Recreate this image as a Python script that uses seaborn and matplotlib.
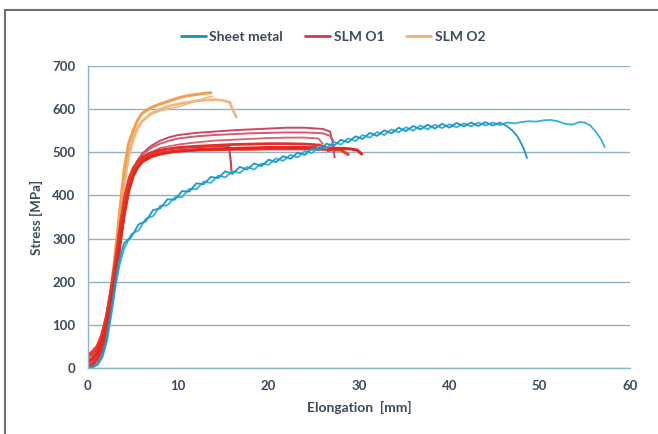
import matplotlib
matplotlib.use("Agg")
import matplotlib.pyplot as plt
from matplotlib.lines import Line2D
import seaborn as sns

# ---------------- data: elongation [mm] and stress [MPa] per specimen ----------------
# Sheet metal specimens
sheet_a_x = [0.3, 1.0, 1.5, 2.0, 2.5, 3.0, 3.4, 3.7,
             4.0, 4.8, 5.6, 6.4, 7.2, 8.0, 8.8, 9.6, 10.4, 11.2, 12.0, 12.8, 13.6, 14.4,
             15.2, 16.0, 16.8, 17.6, 18.4, 19.2, 20.0, 20.8, 21.6, 22.4, 23.2, 24.0, 24.8,
             25.6, 26.4, 27.2, 28.0, 28.8, 29.6, 30.4, 31.2, 32.0, 32.8, 33.6, 34.4, 35.2,
             36.0, 36.8, 37.6, 38.4, 39.2, 40.0, 40.8, 41.6, 42.4, 43.2, 44.0, 44.8, 45.6,
             46.4, 47.0, 47.6, 48.2, 48.6]
sheet_a_y = [0, 8, 25, 62, 125, 195, 245, 270,
             289, 304, 333, 340, 366, 370, 391, 390, 410, 409, 428, 426, 443, 440,
             456, 450, 466, 460, 474, 468, 483, 477, 491, 485, 499, 494, 509,
             505, 520, 515, 529, 523, 537, 531, 545, 538, 551, 544, 557, 549,
             561, 553, 564, 555, 566, 557, 568, 560, 569, 561, 570, 562, 569,
             560, 550, 535, 510, 487]

sheet_b_x = [0.4, 1.1, 1.6, 2.1, 2.6, 3.1, 3.5, 3.8,
             4.0, 4.8, 5.6, 6.4, 7.2, 8.0, 8.8, 9.6, 10.4, 11.2, 12.0, 12.8, 13.6, 14.4,
             15.2, 16.0, 16.8, 17.6, 18.4, 19.2, 20.0, 20.8, 21.6, 22.4, 23.2, 24.0, 24.8,
             25.6, 26.4, 27.2, 28.0, 28.8, 29.6, 30.4, 31.2, 32.0, 32.8, 33.6, 34.4, 35.2,
             36.0, 36.8, 37.6, 38.4, 39.2, 40.0, 40.8, 41.6, 42.4, 43.2, 44.0, 44.8, 45.6,
             46.4, 47.2, 48.0, 48.8, 49.6, 50.4, 51.2, 52.0, 52.8, 53.6, 54.4, 55.0, 55.6,
             56.2, 56.8, 57.2]
sheet_b_y = [0, 8, 25, 62, 125, 195, 240, 262,
             277, 310, 319, 346, 352, 376, 377, 396, 396, 415, 414, 432, 429, 446,
             442, 456, 452, 466, 460, 474, 471, 486, 480, 494, 488, 503, 498,
             514, 509, 524, 518, 532, 526, 540, 534, 547, 540, 553, 546, 558,
             550, 562, 553, 564, 556, 565, 558, 567, 560, 569, 562, 569, 563,
             569, 567, 570, 572, 571, 574, 575, 572, 566, 564, 570, 569, 562,
             548, 530, 512]

# SLM O1 specimens
o1_a_x = [0, 0.5, 1.0, 1.5, 2.0, 2.5, 3.0, 3.5, 4.0, 4.5, 5.0, 5.5, 6.0, 7.0, 8.0, 9.0,
          10, 12, 14, 16, 18, 20, 22, 24, 26, 28, 29, 29.8, 30.3]
o1_a_y = [15, 22, 35, 60, 100, 150, 215, 285, 355, 410, 445, 465, 478, 490, 496, 500,
          503, 506, 508, 509, 510, 511, 511, 511, 510, 509, 508, 505, 496]

o1_b_x = [0, 0.5, 1.0, 1.5, 2.0, 2.5, 3.0, 3.5, 4.0, 4.5, 5.0, 5.5, 6.0, 7.0, 8.0,
          10, 12, 14, 16, 18, 20, 22, 24, 25.5, 26.3, 26.6]
o1_b_y = [5, 10, 22, 45, 85, 140, 205, 280, 360, 420, 455, 475, 487, 498, 505,
          511, 514, 516, 518, 519, 520, 520, 519, 517, 512, 503]

o1_c_x = [0, 0.5, 1.0, 1.5, 2.0, 2.5, 3.0, 3.5, 4.0, 4.5, 5.0, 5.5, 6.0, 7.0, 8.0,
          10, 12, 14, 15.6, 15.8, 15.9]
o1_c_y = [25, 32, 45, 75, 120, 180, 250, 325, 395, 440, 465, 480, 490, 500, 505,
          510, 512, 514, 515, 480, 452]

o1_d_x = [0, 0.5, 1.0, 1.5, 2.0, 2.5, 3.0, 3.5, 4.0, 4.5, 5.0, 5.5, 6.0, 7.0, 8.0, 9.0,
          10, 12, 14, 16, 18, 20, 22, 24, 26, 26.8, 27.2]
o1_d_y = [10, 18, 30, 55, 95, 150, 220, 300, 380, 432, 462, 482, 495, 510, 520, 527,
          532, 537, 540, 542, 544, 545, 546, 546, 544, 538, 525]

o1_e_x = [0, 0.5, 1.0, 1.5, 2.0, 2.5, 3.0, 3.5, 4.0, 4.5, 5.0, 5.5, 6.0, 7.0, 8.0, 9.0,
          10, 12, 14, 16, 18, 20, 22, 24, 26, 26.8, 27.1, 27.3]
o1_e_y = [0, 5, 15, 35, 70, 125, 195, 275, 355, 415, 455, 480, 497, 515, 527, 535,
          540, 545, 548, 551, 553, 555, 557, 557, 554, 548, 520, 488]

o1_f_x = [0, 0.5, 1.0, 1.5, 2.0, 2.5, 3.0, 3.5, 4.0, 4.5, 5.0, 5.5, 6.0, 7.0, 8.0,
          10, 12, 14, 16, 18, 20, 22, 24, 26, 28, 28.8]
o1_f_y = [30, 38, 50, 75, 115, 170, 240, 315, 385, 430, 458, 474, 484, 494, 499,
          503, 505, 506, 507, 507, 508, 508, 508, 507, 505, 495]

o1_g_x = [0, 1.0, 2.0, 2.5, 3.0, 3.5, 4.0, 4.5, 5.0, 5.5, 6.0, 7.0, 8.0, 10, 12, 14,
          16, 18, 20, 22, 24, 25.5, 26]
o1_g_y = [8, 25, 90, 145, 215, 295, 372, 425, 455, 474, 486, 500, 510, 518, 523, 527,
          529, 531, 533, 534, 534, 532, 520]

# SLM O2 specimens
o2_a_x = [0, 0.5, 1.0, 1.5, 2.0, 2.5, 3.0, 3.5, 4.0, 4.5, 5.0, 5.5, 6.0, 6.5, 7.0,
          8.0, 9.0, 10, 11, 12, 13, 13.6]
o2_a_y = [20, 28, 40, 65, 110, 175, 260, 360, 460, 520, 550, 575, 590, 598, 604,
          612, 619, 626, 631, 634, 637, 638]

o2_b_x = [0, 0.5, 1.0, 1.5, 2.0, 2.5, 3.0, 3.5, 4.0, 4.5, 5.0, 5.5, 6.0, 7.0, 8.0,
          9.0, 10, 11, 12, 13, 14, 15, 15.7, 16.0, 16.4]
o2_b_y = [10, 18, 30, 55, 95, 160, 245, 340, 425, 490, 530, 556, 572, 590, 600,
          607, 612, 616, 619, 621, 622, 620, 616, 600, 582]

o2_c_x = [0, 1.0, 2.0, 2.5, 3.0, 3.5, 4.0, 4.5, 5.0, 5.5, 6.0, 7.0, 8.0, 9.0, 10,
          11, 12, 13, 13.8]
o2_c_y = [12, 35, 100, 165, 250, 345, 430, 495, 535, 560, 574, 588, 596, 601, 605,
          612, 619, 626, 630]

y_ticks = [0, 100, 200, 300, 400, 500, 600, 700]
x_ticks = [0, 10, 20, 30, 40, 50, 60]
series_names = ["Sheet metal", "SLM O1", "SLM O2"]

# ---------------- style ----------------
sns.set_style("white")
plt.rcParams["font.family"] = ["Lato", "DejaVu Sans"]

text_col = "#3A4A5E"
grid_col = "#8DB3C9"

fig = plt.figure(figsize=(6.58, 4.34), dpi=100)
ax = fig.add_axes([88 / 658, 66 / 434, 542 / 658, 302 / 434])

# (x, y, colour, line width) drawn back to front
curves = [
    (o2_c_x, o2_c_y, "#E9B57A", 1.0),
    (o2_b_x, o2_b_y, "#F4B57A", 2.0),
    (o2_a_x, o2_a_y, "#F0A050", 2.2),
    (o1_e_x, o1_e_y, "#C9485F", 1.4),
    (o1_d_x, o1_d_y, "#D45A6C", 1.4),
    (o1_g_x, o1_g_y, "#DA6070", 1.3),
    (o1_c_x, o1_c_y, "#C94050", 1.5),
    (o1_b_x, o1_b_y, "#E0302C", 2.0),
    (o1_f_x, o1_f_y, "#EE3A22", 2.2),
    (o1_a_x, o1_a_y, "#E5261E", 2.2),
    (sheet_b_x, sheet_b_y, "#36AEDC", 1.3),
    (sheet_a_x, sheet_a_y, "#1C97CC", 1.3),
]
for cx, cy, col, lw in curves:
    sns.lineplot(x=cx, y=cy, color=col, linewidth=lw, sort=False,
                 estimator=None, ax=ax, legend=False)

ax.set_xlim(0, 60)
ax.set_ylim(0, 700)
ax.set_xticks(x_ticks)
ax.set_yticks(y_ticks)
ax.yaxis.grid(True, color=grid_col, linewidth=1.0)
ax.xaxis.grid(False)
ax.set_axisbelow(True)
for side in ("top", "right"):
    ax.spines[side].set_visible(False)
for side in ("left", "bottom"):
    ax.spines[side].set_color(grid_col)
    ax.spines[side].set_linewidth(1.0)
ax.tick_params(axis="both", direction="out", length=4, width=1, color=grid_col,
               labelsize=9.5, labelcolor=text_col, pad=5)
for lab in ax.get_xticklabels() + ax.get_yticklabels():
    lab.set_fontweight("bold")

ax.set_xlabel("Elongation  [mm]", fontsize=10, fontweight="bold", color=text_col, labelpad=6)
ax.set_ylabel("Stress [MPa]", fontsize=9.5, fontweight="bold", color=text_col, labelpad=7)

handles = [
    Line2D([], [], color="#1A90C4", lw=2),
    Line2D([], [], color="#D03A50", lw=2),
    Line2D([], [], color="#F2B274", lw=2),
]
leg = fig.legend(handles, series_names, loc="center", bbox_to_anchor=(333 / 658, 1 - 37 / 434),
                 ncol=3, frameon=False, fontsize=10, handlelength=1.8, handletextpad=0.25,
                 columnspacing=1.6)
for t in leg.get_texts():
    t.set_color(text_col)
    t.set_fontweight("bold")

# chart frame
fig.add_artist(Line2D([5 / 658, 5 / 658], [0, 1 - 10 / 434], color="#6E6E6E", lw=1.5,
                      transform=fig.transFigure))
fig.add_artist(Line2D([5 / 658, 1], [1 - 10 / 434, 1 - 10 / 434], color="#6E6E6E", lw=1.5,
                      transform=fig.transFigure))

fig.savefig("out.png", dpi=100, facecolor="white")
